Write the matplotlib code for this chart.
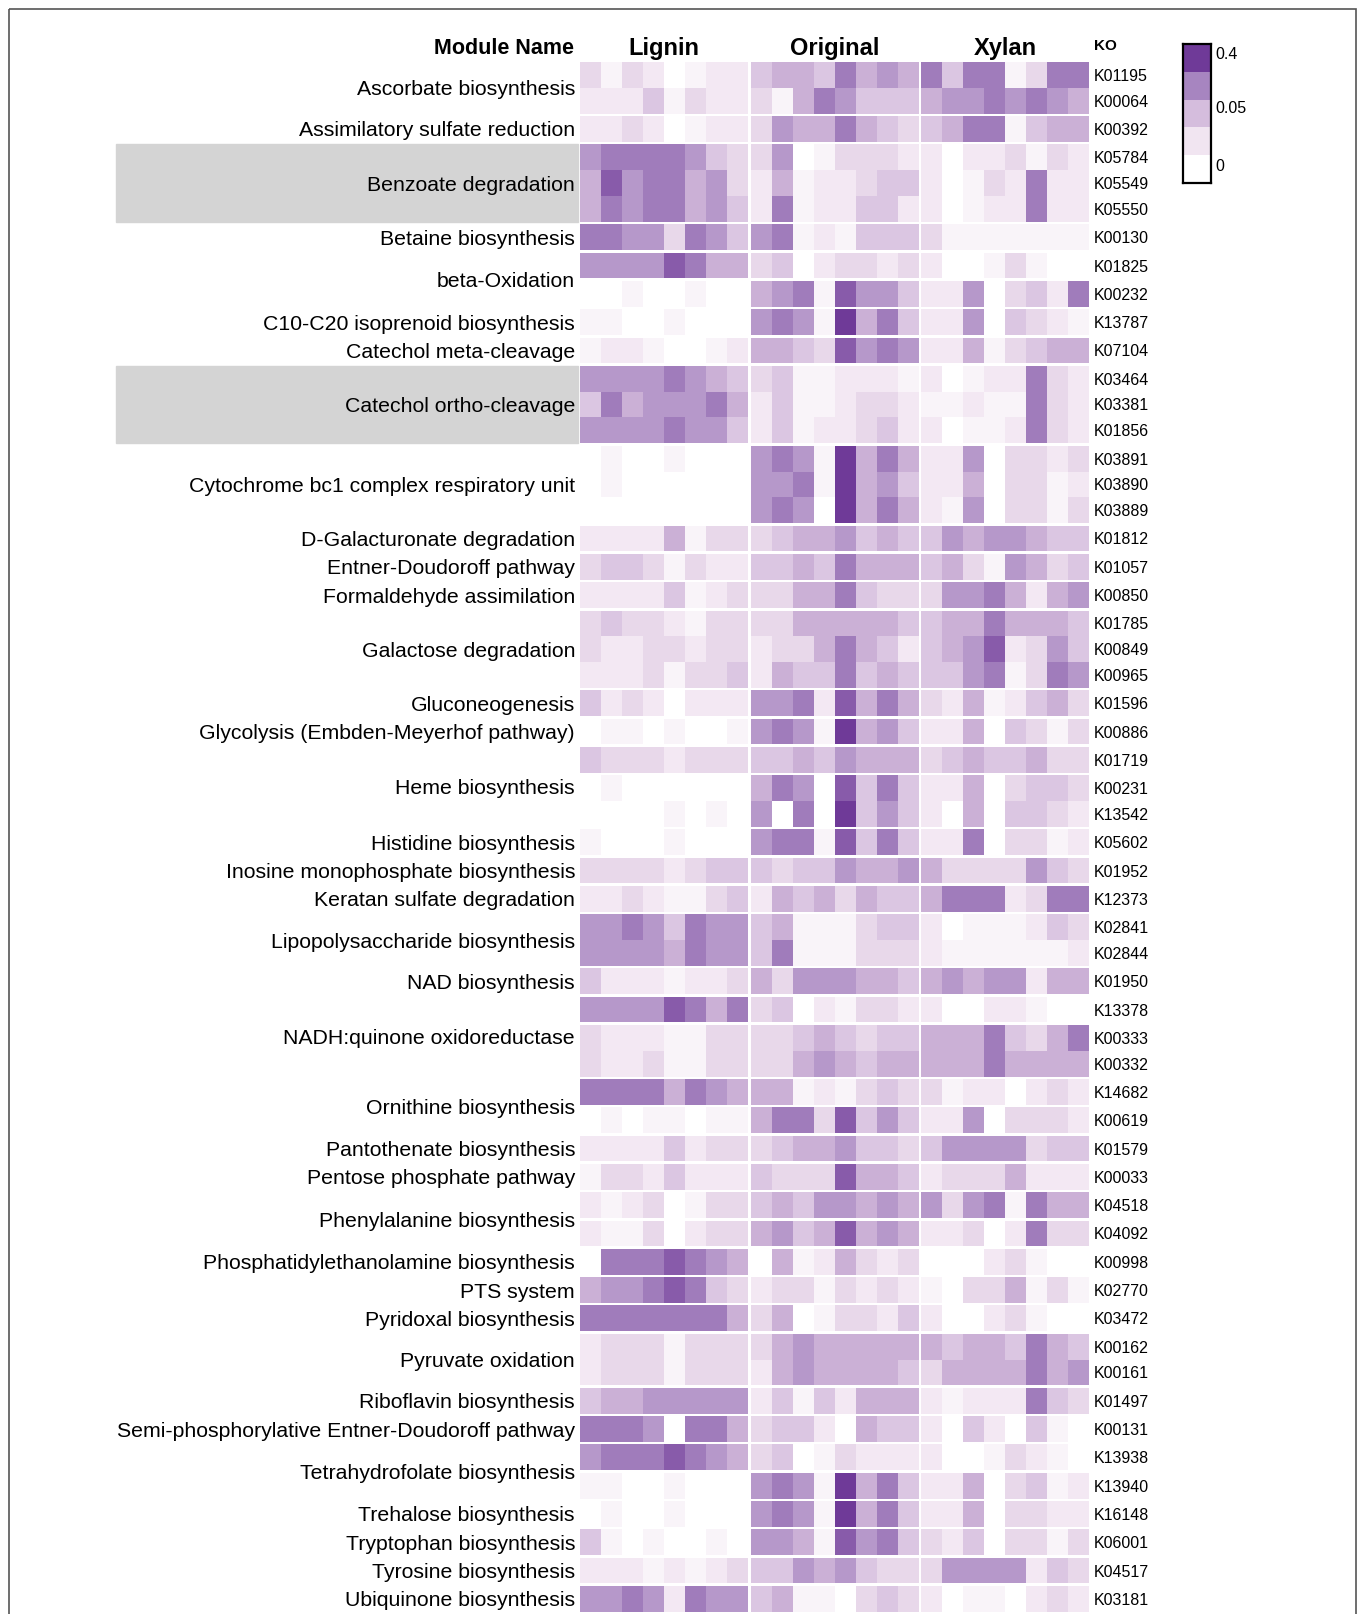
import numpy as np
import matplotlib.pyplot as plt
from matplotlib.colors import LinearSegmentedColormap, ListedColormap
from matplotlib.patches import Rectangle

plt.rcParams['font.family'] = ['Liberation Sans', 'DejaVu Sans']

groups = ["Lignin", "Original", "Xylan"]

module_names = [
    "Ascorbate biosynthesis", "Assimilatory sulfate reduction", "Benzoate degradation",
    "Betaine biosynthesis", "beta-Oxidation", "C10-C20 isoprenoid biosynthesis",
    "Catechol meta-cleavage", "Catechol ortho-cleavage", "Cytochrome bc1 complex respiratory unit",
    "D-Galacturonate degradation", "Entner-Doudoroff pathway", "Formaldehyde assimilation",
    "Galactose degradation", "Gluconeogenesis", "Glycolysis (Embden-Meyerhof pathway)",
    "Heme biosynthesis", "Histidine biosynthesis", "Inosine monophosphate biosynthesis",
    "Keratan sulfate degradation", "Lipopolysaccharide biosynthesis", "NAD biosynthesis",
    "NADH:quinone oxidoreductase", "Ornithine biosynthesis", "Pantothenate biosynthesis",
    "Pentose phosphate pathway", "Phenylalanine biosynthesis", "Phosphatidylethanolamine biosynthesis",
    "PTS system", "Pyridoxal biosynthesis", "Pyruvate oxidation", "Riboflavin biosynthesis",
    "Semi-phosphorylative Entner-Doudoroff pathway", "Tetrahydrofolate biosynthesis",
    "Trehalose biosynthesis", "Tryptophan biosynthesis", "Tyrosine biosynthesis",
    "Ubiquinone biosynthesis",
]
module_sizes = [2, 1, 3, 1, 2, 1, 1, 3, 3, 1, 1, 1, 3, 1, 1, 3, 1, 1, 1, 2, 1,
                3, 2, 1, 1, 2, 1, 1, 1, 2, 1, 1, 2, 1, 1, 1, 1]
highlight = ["Benzoate degradation", "Catechol ortho-cleavage"]

ko_ids = [
    "K01195", "K00064", "K00392", "K05784", "K05549", "K05550", "K00130", "K01825",
    "K00232", "K13787", "K07104", "K03464", "K03381", "K01856", "K03891", "K03890",
    "K03889", "K01812", "K01057", "K00850", "K01785", "K00849", "K00965", "K01596",
    "K00886", "K01719", "K00231", "K13542", "K05602", "K01952", "K12373", "K02841",
    "K02844", "K01950", "K13378", "K00333", "K00332", "K14682", "K00619", "K01579",
    "K00033", "K04518", "K04092", "K00998", "K02770", "K03472", "K00162", "K00161",
    "K01497", "K00131", "K13938", "K13940", "K16148", "K06001", "K04517", "K03181",
]
# neighbouring rows drawn as one block (no white line between them)
joined = [("K01195", "K00064"), ("K05784", "K05549"), ("K05549", "K05550"),
          ("K03464", "K03381"), ("K03381", "K01856"), ("K03891", "K03890"),
          ("K03890", "K03889"), ("K01785", "K00849"), ("K00849", "K00965"),
          ("K00231", "K13542"), ("K02841", "K02844"), ("K00333", "K00332"),
          ("K00162", "K00161")]

# shade: 0 = white ... 9 = darkest purple, 8 samples per treatment
lignin = [
    "31320122", "22241322", "22320122", "67777643", "58677563", "57677564", "77663764",
    "66668755", "00100100", "11001000", "12210012", "66667654", "47566675", "66667664",
    "01001000", "01000000", "00000000", "22225133", "34431322", "22224123", "34332133",
    "32233233", "22231334", "42320222", "01101001", "43332333", "01000000", "00001010",
    "10001000", "33332344", "22321134", "66764766", "66665766", "42221223", "66668757",
    "32221133", "32231133", "77775765", "01011011", "22224233", "13324222", "21230133",
    "21130233", "07778765", "56678743", "77777775", "23331333", "23331333", "45566666",
    "77760775", "67778765", "11001000", "01001000", "41010010", "22212123", "66762766",
]
original = [
    "45547565", "31576444", "36557543", "36013332", "25122344", "27122442", "67121444",
    "34023323", "56718664", "67619574", "55438676", "34112221", "24112332", "24122342",
    "67619575", "66719564", "67609575", "34556454", "44547555", "33557433", "33555554",
    "23357542", "25447454", "66728575", "67619564", "44546555", "57608474", "60709464",
    "67718474", "43446556", "25453544", "45111344", "47111333", "53666554", "34021332",
    "33454344", "33565455", "55121343", "57738464", "34556443", "43338554", "45466565",
    "56458565", "05125323", "23313232", "35013324", "35655555", "25655554", "24142555",
    "34420544", "34013222", "67619574", "67619574", "66518674", "44656433", "45110343",
]
xylan = [
    "74771377", "56676765", "45771455", "20223132", "20132722", "20122722", "31111111",
    "20013100", "22603427", "22604321", "22513455", "20122732", "11211732", "20112732",
    "22603323", "22503312", "21603313", "46566544", "45316534", "36675256", "45575554",
    "45682364", "44671376", "32512453", "22504313", "34544533", "22503443", "20504432",
    "22703312", "53333643", "57772377", "20111243", "21111112", "56566255", "20022100",
    "55574357", "55575555", "31220232", "22603332", "46666344", "23335222", "63671755",
    "22302733", "00023100", "10335131", "20023100", "54554754", "35555756", "21222743",
    "20420410", "20013210", "22503412", "22503322", "32403313", "36666243", "20110232",
]

cbar_colors = ["#ffffff", "#f1e5f1", "#d5bddd", "#a785c0", "#6f3a98"]
cbar_labels = ["0", "0.05", "0.4"]

cmap = LinearSegmentedColormap.from_list("purp", cbar_colors)

W, H = 1362, 1614
fig = plt.figure(figsize=(W / 100, H / 100), dpi=100)
ax = fig.add_axes([0, 0, 1, 1])
ax.set_xlim(0, W)
ax.set_ylim(H, 0)
ax.axis('off')

# row layout
row_h, row_gap, y0 = 25.8, 2.5, 62
tops = []
y = y0
for i, ko in enumerate(ko_ids):
    if i > 0 and (ko_ids[i - 1], ko) not in joined:
        y += row_gap
    tops.append(y)
    y += row_h

yedges = [tops[0]]
mesh_rows = []
for i, t in enumerate(tops):
    if t > yedges[-1] + 1e-6:
        yedges.append(t)
        mesh_rows.append(-1)
    yedges.append(t + row_h)
    mesh_rows.append(i)

col_w, col_gap, x0 = 21.0, 2.5, 580
for g, (name, data) in enumerate(zip(groups, [lignin, original, xylan])):
    vals = np.array([[int(c) for c in s] for s in data], float)
    z = np.full((len(mesh_rows), vals.shape[1]), np.nan)
    for k, r in enumerate(mesh_rows):
        if r >= 0:
            z[k] = vals[r]
    gx = x0 + g * (vals.shape[1] * col_w + col_gap)
    xedges = gx + col_w * np.arange(vals.shape[1] + 1)
    ax.pcolormesh(xedges, yedges, np.ma.masked_invalid(z), cmap=cmap, vmin=0, vmax=9,
                  shading='flat', antialiased=False, zorder=2)
    ax.text((xedges[0] + xedges[-1]) / 2, 46, name, ha='center', va='center_baseline',
            fontsize=17, fontweight='bold')

# module labels and highlight boxes
start = 0
for name, n in zip(module_names, module_sizes):
    top, bot = tops[start], tops[start + n - 1] + row_h
    if name in highlight:
        ax.add_patch(Rectangle((116, top), 578 - 116, bot - top, color='#d4d4d4', zorder=1))
    ax.text(575, (top + bot) / 2, name, ha='right', va='center_baseline', fontsize=15.3,
            zorder=3)
    start += n

for i, ko in enumerate(ko_ids):
    ax.text(1094, tops[i] + row_h / 2, ko, ha='left', va='center_baseline', fontsize=11.5)

ax.text(574, 46, "Module Name", ha='right', va='center_baseline', fontsize=15.5,
        fontweight='bold')
ax.text(1094, 44, "KO", ha='left', va='center_baseline', fontsize=11, fontweight='bold')

# outer frame
ax.add_patch(Rectangle((9, 9), 1347, 2000, fill=False, ec='#555555', lw=1.2))

# legend
cax = fig.add_axes([1183 / W, 1 - 183 / H, 28 / W, 139 / H])
cax.imshow(np.arange(len(cbar_colors))[:, None], cmap=ListedColormap(cbar_colors),
           aspect='auto', origin='lower', extent=[0, 1, 0, len(cbar_colors)])
cax.set_xticks([])
cax.set_yticks([0.65, 2.73, 4.67])
cax.set_yticklabels(cbar_labels, fontsize=11.5)
cax.yaxis.tick_right()
cax.tick_params(axis='y', length=0, pad=3)
for s in cax.spines.values():
    s.set_linewidth(1.6)
    s.set_color('black')

fig.savefig("out.png", dpi=100)
